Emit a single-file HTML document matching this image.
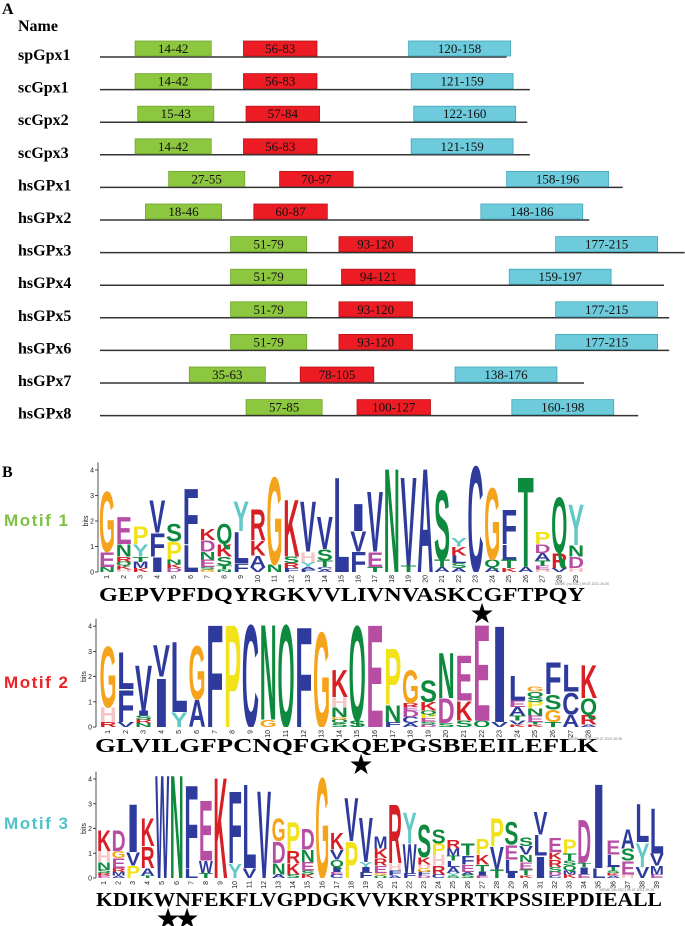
<!DOCTYPE html>
<html><head><meta charset="utf-8">
<style>
html,body{margin:0;padding:0;background:#fff;}
svg{display:block;}
.nm{font-family:"Liberation Serif",serif;font-weight:bold;font-size:16px;fill:#000;}
.bx{font-family:"Liberation Serif",serif;font-size:13px;fill:#111;}
.seq{font-family:"Liberation Serif",serif;font-weight:bold;font-size:20px;fill:#000;}
.ax{font-family:"Liberation Sans",sans-serif;font-size:7px;fill:#222;}
.mot{font-family:"Liberation Sans",sans-serif;font-weight:bold;font-size:17px;}
</style></head>
<body>
<svg id="fig" width="685" height="926" viewBox="0 0 685 926" xmlns="http://www.w3.org/2000/svg">
<defs id="defs"></defs>
<text x="2" y="14" class="nm" font-size="13">A</text>
<text x="18" y="31" class="nm">Name</text>
<g id="partA"></g>
<text x="2" y="477" class="nm" font-size="14">B</text>
<text x="4" y="526" class="mot" fill="#7dc242" textLength="64">Motif 1</text>
<text x="4" y="688" class="mot" fill="#ec2227" textLength="64">Motif 2</text>
<text x="4" y="829" class="mot" fill="#4fc3c8" textLength="64">Motif 3</text>
<g id="logos"></g>
</svg>
<script>
// ---- Panel A data ----
const protNames = ["spGpx1","scGpx1","scGpx2","scGpx3","hsGPx1","hsGPx2","hsGPx3","hsGPx4","hsGPx5","hsGPx6","hsGPx7","hsGPx8"];
const protLengths = [158,167,166,167,203,190,227,219,221,221,188,209];
const motif1Start = [14,14,15,14,27,18,51,51,51,51,35,57];
const motif1End   = [42,42,43,42,55,46,79,79,79,79,63,85];
const motif2Start = [56,56,57,56,70,60,93,94,93,93,78,100];
const motif2End   = [83,83,84,83,97,87,120,121,120,120,105,127];
const motif3Start = [120,121,122,121,158,148,177,159,177,177,138,160];
const motif3End   = [158,159,160,159,196,186,215,197,215,215,176,198];

// ---- Logo data (stacks bottom->top, letter + height in bits) ----
const motif1Stacks = ["N.2 E.6 G2.45","H.1 K.15 Q.15 R.2 N.5 E1.1","K.15 M.25 T.2 Y.5 P.7","I.6 F.95 V1.3","D.15 K.15 N.2 P.7 S.7","L1.1 F2.25","G.1 S.1 E.3 N.3 D.45 K.45","N.1 T.15 S.35 K.5 Q.8","F.35 L1.25 Y1.2","V.2 A.45 K.6 R1.25","N.3 G3.55","F.15 R.2 S.25 K2.3","F.1 A.1 Y.2 H.4 V2.05","A.1 C.1 T.25 S.45 V1.3","L3.85","F.8 V.8 I1.1","T.2 E.6 V2.45","N4.2","T.25 V3.6","A4.2","A.2 T.3 S2.8","A.15 S.2 L.3 K.35 Y.35","C4.3","A.2 Q.3 G2.9","K.15 T.35 L.6 F1.4","A.2 T3.65","H.1 E.15 T.2 A.3 D.35 P.5","V.15 R.6 Q2.25","H.15 D.45 N.45 Y1.65"];
const motif1Seq = "GEPVPFDQYRGKVVLIVNVASKCGFTPQY";
const motif2Stacks = ["R.2 H.6 G2.5","V.2 F1.3 L1.5","N.15 R.15 S.15 I.2 V1.85","I2.0 V1.3","Y.6 L2.9","A1.1 G2.2","F4.2","P4.2","C4.2","G.3 N3.9","Q4.2","F4.1","G3.9","S.15 Q.15 G.1 N.4 H.4 K1.1","S.25 Q3.9","E4.2","F.2 N.7 P2.3","A.15 C.25 D.25 E.15 R.15 G1.35","D.1 S.1 E.15 P.15 Q.15 K.35 S.9","S.15 D1.0 N1.85","S.25 K.8 E1.85","Q.25 E3.95","V.2 I3.95","K.1 V.15 T.2 A.35 E.25 L1.0","K.1 T.1 E.25 N.3 P.25 S.2 Q.2 G.2","T.2 G.5 S.6 F1.3","A.5 C.9 L1.1","A.1 R.4 Q.65 K1.35"];
const motif2Seq = "GLVILGFPCNQFGKQEPGSBEEILEFLK";
const motif3Stacks = ["E.1 R.1 S.15 N.3 H.45 K.85","A.1 M.15 R.15 E.4 G.3 D.85","P.5 V.55 I2.0","T.1 A.3 R.9 K1.15","W4.3","N4.3","L.4 F3.45","T.2 W.5 E2.5","K4.2","Y.6 F3.0","V.4 L3.5","V3.65","A.15 N.45 D.9 G.95","S.15 K.45 R.5 P1.2","K.15 S.15 E.35 N.5 D.85","G4.2","C.15 E.1 I.2 Q.3 V.4 K.7","P1.5 V1.8","F.25 I.2 Y.2 V1.85","Q.1 G.1 E.3 R.3 K.4 M.5","A.1 F.2 H.3 R2.45","F.2 W1.2 Y1.3","D.1 F.15 G.15 H.15 K.3 S1.35","C.15 R.35 H.45 P.45 S.6","S.1 Y.1 A.25 L.25 T.2 M.3 R.35","S.15 A.1 E.3 F.35 T.5","E.1 I.15 T.3 K.4 P.65","T.35 V.95 P1.15","I.2 L.55 E.6 S.95","K.1 T.25 E.3 N.3 V.35 S.35","I.9 L.85 V.95","C.1 D.15 S.2 R.3 K.3 E.6","K.15 M.15 Q.2 S.2 T.3 P.6","E.15 I.3 T.15 D1.8","L.4 I3.5","A.1 K.1 S.1 T.15 L.5 E.6","H.15 E.55 S.5 A.8","V.45 Y1.0 L1.6","E.15 M.35 V.5 L1.9"];
const motif3Seq = "KDIKWNFEKFLVGPDGKVVKRYSPRTKPSSIEPDIEALL";

const NS = "http://www.w3.org/2000/svg";
const colors = {A:"#2e3a9c",C:"#2e3a9c",F:"#2e3a9c",I:"#2e3a9c",L:"#2e3a9c",V:"#2e3a9c",W:"#2e3a9c",M:"#2e3a9c",
 G:"#f5a31a",N:"#0e8a3e",Q:"#0e8a3e",S:"#0e8a3e",T:"#0e8a3e",D:"#b74ea3",E:"#b74ea3",K:"#d71f26",R:"#d71f26",
 H:"#f6c4c4",P:"#f2e21a",Y:"#62c9c6"};

function resX(r){ return 99 + r*2.58; }

const A = document.getElementById('partA');
protNames.forEach((n,i)=>{
  const ly = 57 + i*32.6;
  const t = document.createElementNS(NS,'text');
  t.setAttribute('x',18); t.setAttribute('y',ly+3); t.setAttribute('class','nm'); t.textContent=n;
  
  
  A.appendChild(t);
  const l = document.createElementNS(NS,'line');
  l.setAttribute('x1',100); l.setAttribute('x2',resX(protLengths[i])); l.setAttribute('y1',ly); l.setAttribute('y2',ly);
  l.setAttribute('stroke','#333'); l.setAttribute('stroke-width','1.5');
  
  
  A.appendChild(l);
  [[motif1Start,motif1End,"#8dc63f","#6ea52c"],[motif2Start,motif2End,"#ed1c24","#b5141a"],[motif3Start,motif3End,"#6dcbdc","#3fa6b8"]].forEach(([s,e,f,st],k)=>{
    const x1=resX(s[i]), x2=resX(e[i]+1.5);
    const r=document.createElementNS(NS,'rect');
    r.setAttribute('x',x1); r.setAttribute('y',ly-16); r.setAttribute('width',x2-x1); r.setAttribute('height',15);
    r.setAttribute('fill',f); r.setAttribute('stroke',st); r.setAttribute('stroke-width','0.8');
    
    
    A.appendChild(r);
    const tt=document.createElementNS(NS,'text');
    tt.setAttribute('x',(x1+x2)/2); tt.setAttribute('y',ly-4); tt.setAttribute('text-anchor','middle'); tt.setAttribute('class','bx');
    tt.textContent = s[i]+"-"+e[i];
    
    
    A.appendChild(tt);
  });
});

const L = document.getElementById('logos');
const D = document.getElementById('defs');
function parseStack(s){ return s.split(' ').map(tok=>({c:tok[0],h:parseFloat(tok.slice(1))})); }
function drawLogo(stacks, seq, cfg){
  const g=document.createElementNS(NS,'g');
  
  
  L.appendChild(g);
  const yScale = b => cfg.y0 - b*cfg.bit;
  const xScale = i => cfg.x1 + i*cfg.w;
  const cp=document.createElementNS(NS,'clipPath');
  cp.setAttribute('id','clip-'+cfg.name);
  const cr=document.createElementNS(NS,'rect');
  cr.setAttribute('x',0); cr.setAttribute('y',yScale(4.6)); cr.setAttribute('width',685); cr.setAttribute('height',4.6*cfg.bit);
  cp.appendChild(cr); D.appendChild(cp);
  const lg=document.createElementNS(NS,'g');
  lg.setAttribute('clip-path','url(#clip-'+cfg.name+')');
  
  
  g.appendChild(lg);
  // axis
  const ax=document.createElementNS(NS,'line');
  ax.setAttribute('x1',cfg.ax); ax.setAttribute('x2',cfg.ax); ax.setAttribute('y1',yScale(0)); ax.setAttribute('y2',yScale(4.3));
  ax.setAttribute('stroke','#222'); ax.setAttribute('stroke-width','0.8');
  
  
  g.appendChild(ax);
  [0,1,2,3,4].forEach(b=>{
    const tk=document.createElementNS(NS,'line');
    tk.setAttribute('x1',cfg.ax-3); tk.setAttribute('x2',cfg.ax); tk.setAttribute('y1',yScale(b)); tk.setAttribute('y2',yScale(b));
    tk.setAttribute('stroke','#222'); tk.setAttribute('stroke-width','0.8');
    
    
    g.appendChild(tk);
    const tl=document.createElementNS(NS,'text');
    tl.setAttribute('x',cfg.ax-4); tl.setAttribute('y',yScale(b)+2.5); tl.setAttribute('text-anchor','end'); tl.setAttribute('class','ax');
    tl.textContent=b;
    
    
    g.appendChild(tl);
  });
  const bl=document.createElementNS(NS,'text');
  bl.setAttribute('transform','translate('+(cfg.ax-10)+','+yScale(2)+') rotate(-90)'); bl.setAttribute('text-anchor','middle'); bl.setAttribute('class','ax');
  bl.textContent='bits';
  
  
  g.appendChild(bl);
  const F=20;
  stacks.forEach((s,i)=>{
    const cx=xScale(i);
    let acc=0;
    parseStack(s).forEach(p=>{
      const yb=yScale(acc), h=p.h*cfg.bit;
      acc+=p.h;
      const t=document.createElementNS(NS,'text');
      t.setAttribute('x',0); t.setAttribute('y',0);
      t.setAttribute('font-family','Liberation Sans, sans-serif'); t.setAttribute('font-weight','bold'); t.setAttribute('font-size',F);
      t.setAttribute('textLength',(cfg.w*0.96).toFixed(2)); t.setAttribute('lengthAdjust','spacingAndGlyphs');
      t.setAttribute('fill',colors[p.c]||'#000');
      t.setAttribute('transform','translate('+(cx-cfg.w*0.48).toFixed(2)+','+yb.toFixed(2)+') scale(1,'+(h/(0.72*F)).toFixed(4)+')');
      t.textContent=p.c;
      
      
      lg.appendChild(t);
    });
    const n=document.createElementNS(NS,'text');
    n.setAttribute('transform','translate('+(cx+2)+','+(yScale(0)+3)+') rotate(-90)'); n.setAttribute('text-anchor','end');
    n.setAttribute('class','ax'); n.setAttribute('font-size','6');
    n.textContent=i+1;
    
    
    g.appendChild(n);
  });
  const sq=document.createElementNS(NS,'text');
  sq.setAttribute('x',cfg.sx1); sq.setAttribute('y',cfg.sy); sq.setAttribute('class','seq');
  sq.setAttribute('textLength',cfg.sx2-cfg.sx1); sq.setAttribute('lengthAdjust','spacingAndGlyphs');
  sq.textContent=seq;
  
  
  g.appendChild(sq);
  const mm=document.createElementNS(NS,'text');
  mm.setAttribute('x',cfg.mx); mm.setAttribute('y',yScale(0)+13); mm.setAttribute('font-size','3.5'); mm.setAttribute('fill','#777');
  mm.setAttribute('font-family','Liberation Sans, sans-serif');
  mm.textContent='MEME (no SSC) 09.07.2021 20:30';
  
  
  g.appendChild(mm);
  cfg.stars.forEach(sx=>{
    const st=document.createElementNS(NS,'text');
    st.setAttribute('x',sx); st.setAttribute('y',cfg.sy+22); st.setAttribute('text-anchor','middle'); st.setAttribute('font-size','28');
    st.setAttribute('font-family','DejaVu Sans, sans-serif');
    st.textContent='★';
    
    
    g.appendChild(st);
  });
}
drawLogo(motif1Stacks, motif1Seq, {name:'motif-1-logo', x1:107, w:16.75, y0:572, bit:25.5, ax:98, sx1:99, sx2:585, sy:601, mx:555, stars:[482]});
drawLogo(motif2Stacks, motif2Seq, {name:'motif-2-logo', x1:108, w:17.8, y0:727, bit:25.2, ax:96, sx1:95, sx2:598, sy:752, mx:568, stars:[361]});
drawLogo(motif3Stacks, motif3Seq, {name:'motif-3-logo', x1:104, w:14.55, y0:878, bit:24.75, ax:96, sx1:96, sx2:662, sy:906, mx:600, stars:[168,187]});
</script>
</body></html>
